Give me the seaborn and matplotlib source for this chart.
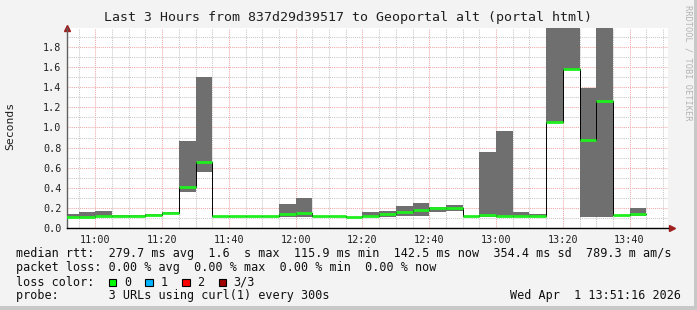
import matplotlib
matplotlib.use("Agg")
import matplotlib.pyplot as plt
import matplotlib.patches as mpatches
import numpy as np
import pandas as pd
import seaborn as sns

# ---- data (5-minute bins, start time, values in seconds) ----
bin_start = ["10:50", "10:55", "11:00", "11:05", "11:10", "11:15", "11:20", "11:25",
             "11:30", "11:35", "11:40", "11:45", "11:50", "11:55", "12:00", "12:05",
             "12:10", "12:15", "12:20", "12:25", "12:30", "12:35", "12:40", "12:45",
             "12:50", "12:55", "13:00", "13:05", "13:10", "13:15", "13:20", "13:25",
             "13:30", "13:35", "13:40"]
median = [0.112, 0.112, 0.122, 0.122, 0.122, 0.132, 0.152, 0.411,
          0.660, 0.119, 0.119, 0.119, 0.119, 0.142, 0.152, 0.119,
          0.119, 0.109, 0.119, 0.136, 0.162, 0.182, 0.196, 0.202,
          0.119, 0.132, 0.119, 0.119, 0.119, 1.055, 1.582, 0.879,
          1.267, 0.129, 0.142]
smoke_low = [0.103, 0.103, 0.112, 0.119, 0.119, 0.125, 0.145, 0.361,
             0.560, 0.116, 0.116, 0.116, 0.116, 0.112, 0.112, 0.116,
             0.116, 0.106, 0.112, 0.112, 0.119, 0.119, 0.162, 0.172,
             0.116, 0.112, 0.112, 0.112, 0.115, 1.040, 1.570, 0.112,
             0.112, 0.125, 0.119]
smoke_high = [0.136, 0.162, 0.172, 0.125, 0.125, 0.135, 0.155, 0.866,
              1.506, 0.122, 0.122, 0.122, 0.122, 0.242, 0.299, 0.122,
              0.122, 0.112, 0.159, 0.169, 0.219, 0.249, 0.209, 0.229,
              0.122, 0.756, 0.965, 0.159, 0.139, 2.500, 2.500, 1.393,
              2.500, 0.132, 0.199]
x_tick_labels = ["11:00", "11:20", "11:40", "12:00", "12:20", "12:40", "13:00", "13:20", "13:40"]

title = "Last 3 Hours from 837d29d39517 to Geoportal alt (portal html)"

def to_min(s):
    h, m = s.split(":")
    return (int(h) - 10) * 60 + int(m)

starts = np.array([to_min(s) for s in bin_start], dtype=float)
med = np.array(median)
lo = np.array(smoke_low)
hi = np.array(smoke_high)
tick_pos = [to_min(s) for s in x_tick_labels]

# ---- style ----
sns.set_style("white")
plt.rcParams["font.family"] = ["DejaVu Sans Mono", "DejaVu Sans"]

W, H = 697, 310
fig = plt.figure(figsize=(W / 100, H / 100), dpi=100)
fig.patch.set_facecolor("#f3f3f3")

def px(x, y):
    return x / W, 1 - y / H

L, R, T, B = 67, 668, 28, 228
ax = fig.add_axes([L / W, (H - B) / H, (R - L) / W, (B - T) / H])
ax.set_facecolor("white")
ax.set_xlim(51.5, 231.5)
ax.set_ylim(0, 1.99)

# grid
ax.set_xticks(tick_pos)
ax.set_xticklabels(x_tick_labels)
ax.set_xticks(np.arange(55, 231, 5), minor=True)
ax.set_yticks(np.arange(0, 1.95, 0.2))
ax.set_yticklabels([f"{v:.1f}" for v in np.arange(0, 1.95, 0.2)])
ax.set_yticks(np.arange(0.1, 1.95, 0.2), minor=True)
ax.grid(which="minor", color="#c8c8c8", linestyle=(0, (1, 1)), linewidth=0.75)
ax.grid(which="major", color="#f0a8a8", linestyle=(0, (1, 1)), linewidth=0.75)
ax.set_axisbelow(True)

# smoke
ax.bar(starts, hi - lo, bottom=lo, width=5, align="edge", color="#6f6f6f",
       linewidth=0, zorder=2)

# median step line (black)
step_df = pd.DataFrame({"t": np.append(starts, starts[-1] + 5),
                        "v": np.append(med, med[-1])})
sns.lineplot(data=step_df, x="t", y="v", drawstyle="steps-post", color="black",
             linewidth=0.7, errorbar=None, ax=ax, zorder=3)

# loss-coloured median segments
ax.hlines(med, starts, starts + 5, colors="#1ef01e", linewidth=2.0, zorder=4)

ax.set_xlabel("")
ax.set_ylabel("")

for s in ["top", "right"]:
    ax.spines[s].set_visible(False)
ax.spines["left"].set_color("#606060")
ax.spines["left"].set_linewidth(1)
ax.spines["bottom"].set_color("black")
ax.spines["bottom"].set_linewidth(1)
ax.tick_params(axis="both", which="both", length=2, color="#808080",
               labelsize=7.3, labelcolor="#202020", pad=2)
ax.tick_params(axis="x", which="major", pad=3)

# arrows at axis ends
ax.plot([0], [1.0], marker="^", color="#a02020", markersize=4, transform=ax.transAxes,
        clip_on=False)
ax.plot([1.007], [0], marker=">", color="#a02020", markersize=4, transform=ax.transAxes,
        clip_on=False)

# texts
fig.text(*px(348, 18), title, ha="center", va="center", fontsize=9.5, color="#202020")
fig.text(*px(10, 126), "Seconds", rotation=90, ha="center", va="center",
         fontsize=8.2, color="#202020")
fig.text(*px(688, 5), "RRDTOOL / TOBI OETIKER", rotation=270, ha="center", va="top",
         fontsize=6.2, color="#b4b4b4")

fs = 8.5
fig.text(*px(16, 254), "median rtt:  279.7 ms avg  1.6  s max  115.9 ms min  142.5 ms now  354.4 ms sd  789.3 m am/s",
         ha="left", va="center", fontsize=fs, color="#101010")
fig.text(*px(16, 268), "packet loss: 0.00 % avg  0.00 % max  0.00 % min  0.00 % now",
         ha="left", va="center", fontsize=fs, color="#101010")
fig.text(*px(16, 282), "loss color:", ha="left", va="center", fontsize=fs, color="#101010")
legend_items = [("0", "#00ff00", 108.5, 124), ("1", "#00b4ff", 145, 160.7),
                ("2", "#ff0000", 182, 197.3), ("3/3", "#a00000", 218.5, 233.3)]
for lab, col, bx, tx in legend_items:
    x0, y0 = px(bx, 286)
    fig.patches.append(mpatches.Rectangle((x0, y0), 7.5 / W, 7.5 / H, transform=fig.transFigure,
                                          facecolor=col, edgecolor="black", linewidth=0.8))
    fig.text(*px(tx, 282), lab, ha="left", va="center", fontsize=fs, color="#101010")
fig.text(*px(16, 296), "probe:       3 URLs using curl(1) every 300s", ha="left", va="center",
         fontsize=fs, color="#101010")
fig.text(*px(681, 296), "Wed Apr  1 13:51:16 2026", ha="right", va="center",
         fontsize=fs, color="#101010")

# frame shading
fig.patches.append(mpatches.Rectangle((0, 0), 1, 4 / H, transform=fig.transFigure,
                                      facecolor="#c8c8c8", edgecolor="none"))
fig.patches.append(mpatches.Rectangle((1 - 3 / W, 0), 3 / W, 1, transform=fig.transFigure,
                                      facecolor="#c8c8c8", edgecolor="none"))

fig.savefig("out.png", dpi=100, facecolor=fig.get_facecolor())
